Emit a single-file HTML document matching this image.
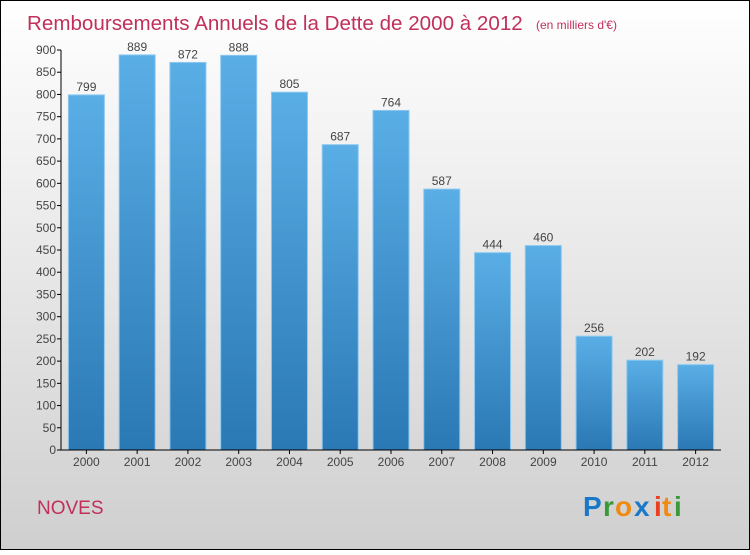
<!DOCTYPE html>
<html><head><meta charset="utf-8"><style>
html,body{margin:0;padding:0}
body{width:750px;height:550px;overflow:hidden;font-family:"Liberation Sans",sans-serif}
</style></head><body>
<svg id="chart" width="750" height="550" xmlns="http://www.w3.org/2000/svg">
<defs>
<linearGradient id="bg" x1="0" y1="0" x2="0" y2="1"><stop offset="0" stop-color="#ffffff"/><stop offset="1" stop-color="#cfcfcf"/></linearGradient>
<linearGradient id="bar" x1="0" y1="0" x2="0" y2="1"><stop offset="0" stop-color="#5aaee6"/><stop offset="1" stop-color="#2a78b4"/></linearGradient>
</defs>
<rect x="0.5" y="0.5" width="749" height="549" fill="url(#bg)" stroke="#000"/>
<text x="27" y="30" font-size="20.6" fill="#c0305a">Remboursements Annuels de la Dette de 2000 à 2012</text>
<text x="536" y="29" font-size="12" fill="#c0305a">(en milliers d'€)</text>
<g id="yaxis"></g>
<g id="bars"></g>
<g id="xaxis"></g>
<text x="37" y="514" font-size="19" fill="#c0305a">NOVES</text>
<g font-size="28" font-weight="bold" font-family="'Liberation Sans',sans-serif">
<text x="583" y="516" fill="#1a78c8">P</text><text x="603" y="516" fill="#3a9a3a">r</text><text x="615" y="516" fill="#f08a10">o</text><text x="634" y="516" fill="#1a78c8">x</text><text x="654" y="516" fill="#e84020">i</text><text x="662" y="516" fill="#f08a10">t</text><text x="674" y="516" fill="#3a9a3a">i</text>
</g>
</svg>
<script>
const years=["2000","2001","2002","2003","2004","2005","2006","2007","2008","2009","2010","2011","2012"];
const values=[799,889,872,888,805,687,764,587,444,460,256,202,192];
const yTicks=[0,50,100,150,200,250,300,350,400,450,500,550,600,650,700,750,800,850,900];
const NS="http://www.w3.org/2000/svg";
const x0=61,x1=721,yBase=450,yTop=50,yMax=900;
const y=v=>yBase-(v/yMax)*(yBase-yTop);
const step=(x1-x0)/years.length;
const xc=i=>x0+step*(i+0.5);
function mk(t,a,p){const e=document.createElementNS(NS,t);for(const k in a)e.setAttribute(k,a[k]);p.appendChild(e);return e;}
const ya=document.getElementById('yaxis'),bg=document.getElementById('bars'),xa=document.getElementById('xaxis');
mk('line',{x1:x0,y1:yTop,x2:x0,y2:yBase,stroke:'#000'},ya);
yTicks.forEach(t=>{
 const l=mk('line',{x1:x0-4,y1:y(t),x2:x0,y2:y(t),stroke:'#000'},ya);
 
 
 const tx=mk('text',{x:x0-5,y:y(t)+4,'text-anchor':'end','font-size':12,fill:'#444'},ya);
 tx.textContent=t;
 
 
});
mk('line',{x1:x0,y1:yBase,x2:x1,y2:yBase,stroke:'#000'},xa);
years.forEach((yr,i)=>{
 const c=xc(i),w=36,v=values[i];
 const r=mk('rect',{x:c-w/2,y:y(v),width:w,height:yBase-y(v),fill:'url(#bar)',stroke:'#8cc8f0','stroke-width':1},bg);
 
 
 const lb=mk('text',{x:c,y:y(v)-4,'text-anchor':'middle','font-size':12,fill:'#444'},bg);
 lb.textContent=v;
 
 
 const tk=mk('line',{x1:c,y1:yBase,x2:c,y2:yBase+4,stroke:'#000'},xa);
 
 
 const xl=mk('text',{x:c,y:yBase+16,'text-anchor':'middle','font-size':12,fill:'#444'},xa);
 xl.textContent=yr;
 
 
});
</script>
</body></html>
